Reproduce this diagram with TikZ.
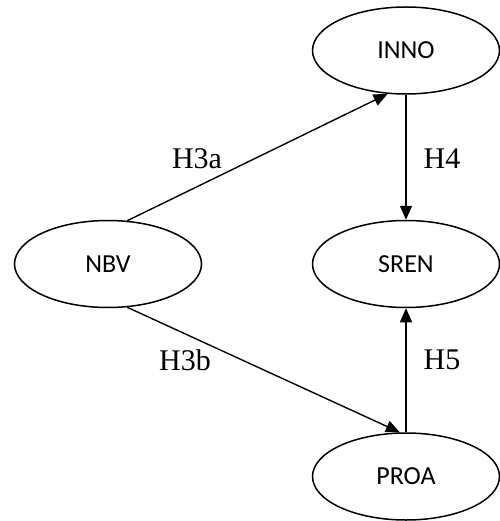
\documentclass[tikz,border=0pt]{standalone}
\usepackage{fontspec}
\setmainfont{Liberation Serif}
\newfontfamily\nodefont{Carlito}
\usetikzlibrary{arrows.meta,shapes.geometric}
\begin{document}
\begin{tikzpicture}[x=1pt,y=-1pt,
  var/.style={ellipse,draw,line width=1.5pt,minimum width=187pt,minimum height=87pt,inner sep=0pt,font=\nodefont\fontsize{26}{30}\selectfont},
  rel/.style={line width=1.4pt,-{Triangle[length=14pt,width=12pt]}},
  lab/.style={font=\fontsize{30}{34}\selectfont}]
\useasboundingbox (0,0) rectangle (499,521);
\node[var] (inno) at (406,50.5) {INNO};
\node[var] (sren) at (406,264) {SREN};
\node[var] (proa) at (406,476.5) {PROA};
\node[var] (nbv) at (108,264) {NBV};
\draw[rel] (nbv.66) -- (inno.247);
\draw[rel] (inno.south) -- (sren.north);
\draw[rel] (proa.north) -- (sren.south);
\draw[rel] (nbv.-66) -- (proa.98);
\node[lab] (h3a) at (197,159) {H3a};
\node[lab] (h4) at (442,159) {H4};
\node[lab] (h3b) at (185,360) {H3b};
\node[lab] (h5) at (442,360) {H5};
\end{tikzpicture}
\end{document}
